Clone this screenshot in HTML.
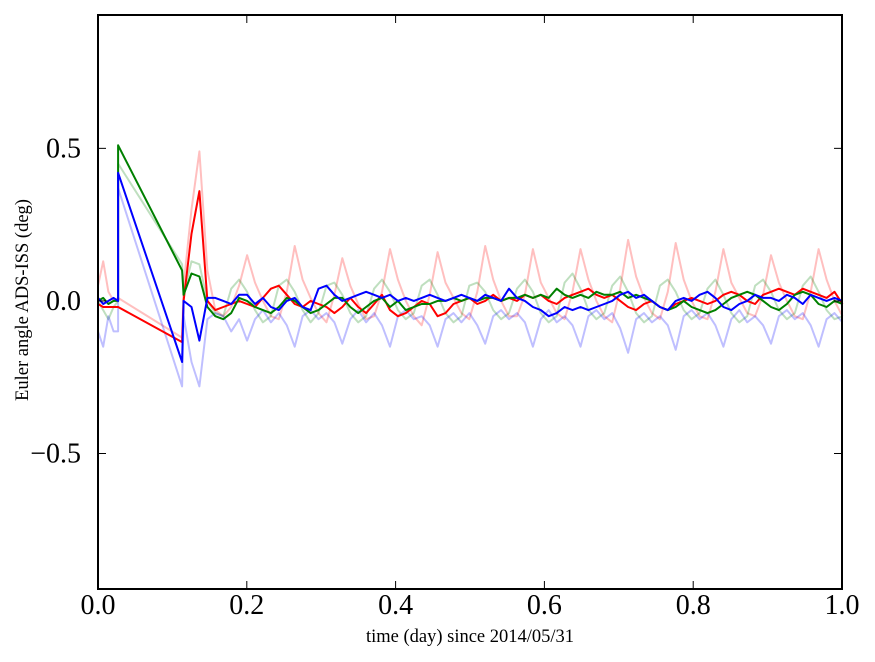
<!DOCTYPE html>
<html><head><meta charset="utf-8"><style>
html,body{margin:0;padding:0;background:#fff;}
svg{display:block;font-family:"Liberation Serif",serif;}
</style></head><body>
<svg id="chart" width="875" height="662" viewBox="0 0 875 662" xmlns="http://www.w3.org/2000/svg">
<rect x="0" y="0" width="875" height="662" fill="#fff"/>
<g id="series"></g>
<g id="axes"></g>
<text x="470" y="642" font-size="18.5" text-anchor="middle">time (day) since 2014/05/31</text>
<text transform="translate(28,300) rotate(-90)" font-size="18.5" text-anchor="middle">Euler angle ADS-ISS (deg)</text>
</svg>
<script>
const xTicks=[0,0.2,0.4,0.6,0.8,1.0];
const xTickLabels=["0.0","0.2","0.4","0.6","0.8","1.0"];
const yTicks=[0.5,0.0,-0.5];
const yTickLabels=["0.5","0.0","\u22120.5"];
const preTimes=[0,0.007,0.014,0.021,0.027,0.027,0.113];
const mainStart=0.115, mainStep=0.01067;
const preRedFaint=[0.05,0.13,0.03,0.0,0.01,0.01,-0.12];
const preGreenFaint=[0.0,-0.03,-0.06,-0.02,0.0,0.45,0.12];
const preBlueFaint=[-0.1,-0.15,-0.05,-0.1,-0.1,0.37,-0.28];
const preRed=[-0.01,-0.02,-0.02,-0.02,-0.02,-0.02,-0.135];
const preGreen=[0.0,0.01,-0.01,0.0,0.0,0.51,0.10];
const preBlue=[0.01,-0.01,0.0,0.01,0.0,0.42,-0.20];
const redFaint=[0.05,0.30,0.49,0.10,-0.03,-0.05,
-0.02,0.05,0.15,0.06,0.00,-0.05,
-0.06,0.03,0.18,0.07,0.01,-0.04,
-0.07,0.02,0.14,0.05,-0.01,-0.06,
-0.05,0.03,0.17,0.07,0.00,-0.05,
-0.08,0.02,0.16,0.06,0.01,-0.04,
-0.06,0.03,0.18,0.07,0.00,-0.05,
-0.05,0.02,0.17,0.06,0.01,-0.04,
-0.06,0.03,0.17,0.07,0.00,-0.05,
-0.07,0.04,0.20,0.08,0.01,-0.04,
-0.06,0.03,0.19,0.07,0.00,-0.05,
-0.06,0.03,0.17,0.06,0.01,-0.04,
-0.05,0.02,0.15,0.06,0.00,-0.05,
-0.06,0.03,0.17,0.07,0.00,-0.05];
const blueFaint=[-0.05,-0.20,-0.28,-0.06,-0.04,-0.05,
-0.10,-0.06,-0.13,-0.06,-0.03,-0.07,
-0.04,-0.08,-0.15,-0.05,-0.03,-0.06,
-0.04,-0.07,-0.14,-0.06,-0.03,-0.07,
-0.04,-0.08,-0.15,-0.05,-0.03,-0.06,
-0.05,-0.08,-0.15,-0.06,-0.04,-0.07,
-0.04,-0.08,-0.14,-0.05,-0.03,-0.06,
-0.04,-0.07,-0.15,-0.06,-0.03,-0.07,
-0.05,-0.08,-0.15,-0.05,-0.03,-0.06,
-0.04,-0.09,-0.17,-0.06,-0.04,-0.07,
-0.05,-0.08,-0.16,-0.05,-0.03,-0.06,
-0.04,-0.08,-0.15,-0.06,-0.03,-0.07,
-0.05,-0.08,-0.14,-0.05,-0.03,-0.06,
-0.04,-0.08,-0.15,-0.06,-0.04,-0.07];
const greenFaint=[0.02,0.13,0.12,0.00,-0.04,-0.05,
0.04,0.07,0.03,-0.03,-0.07,-0.05,
0.05,0.07,0.03,-0.03,-0.07,-0.04,
0.05,0.06,0.02,-0.04,-0.07,-0.05,
0.04,0.07,0.03,-0.03,-0.06,-0.04,
0.05,0.07,0.02,-0.04,-0.07,-0.05,
0.05,0.06,0.03,-0.03,-0.06,-0.04,
0.04,0.07,0.03,-0.04,-0.07,-0.05,
0.06,0.09,0.04,-0.03,-0.06,-0.04,
0.05,0.08,0.03,-0.04,-0.07,-0.05,
0.05,0.07,0.03,-0.03,-0.06,-0.04,
0.04,0.07,0.02,-0.04,-0.07,-0.05,
0.05,0.07,0.03,-0.03,-0.06,-0.04,
0.05,0.08,0.03,-0.03,-0.06,-0.05];
const redValues=[0.00,0.22,0.36,0.00,-0.03,-0.02,
-0.01,0.00,-0.01,-0.02,0.01,0.04,
0.05,0.02,-0.01,-0.02,0.00,-0.01,
-0.02,-0.04,-0.02,0.01,-0.02,-0.04,
-0.01,0.02,-0.03,-0.05,-0.04,-0.02,
0.00,-0.01,-0.05,-0.04,-0.01,0.00,
0.01,-0.01,0.00,0.02,0.00,0.01,
0.00,0.02,0.01,0.02,0.00,-0.01,
0.01,0.02,0.03,0.04,0.02,0.01,
0.02,0.00,-0.02,-0.03,-0.01,0.00,
-0.02,-0.03,-0.01,0.00,0.01,0.00,
-0.01,0.00,0.02,0.03,0.02,0.00,
-0.01,0.02,0.03,0.04,0.03,0.02,
0.04,0.03,0.02,0.01,0.03,-0.01];
const greenValues=[0.02,0.09,0.08,-0.02,-0.05,-0.06,
-0.04,0.01,0.00,-0.02,-0.03,-0.04,
-0.02,0.01,0.00,-0.02,-0.04,-0.03,
-0.01,0.01,0.01,-0.02,-0.04,-0.02,
0.00,0.01,-0.02,0.00,-0.03,-0.02,
-0.01,-0.01,0.00,0.00,0.01,0.00,
0.01,0.00,0.01,0.01,0.00,0.01,
0.01,0.02,0.01,0.02,0.01,0.04,
0.02,0.01,0.02,0.01,0.03,0.02,
0.02,0.03,0.01,0.02,0.01,0.00,
-0.02,-0.03,-0.02,0.00,-0.02,-0.03,
-0.04,-0.03,-0.01,0.01,0.02,0.03,
0.02,0.00,-0.02,-0.03,-0.01,0.02,
0.03,0.02,-0.01,-0.02,0.00,-0.01];
const blueValues=[0.00,-0.02,-0.13,0.01,0.01,0.00,
-0.01,0.02,0.02,-0.01,0.01,-0.02,
-0.03,0.00,0.01,-0.02,-0.03,0.04,
0.05,0.02,0.00,0.01,0.02,0.03,
0.02,0.01,0.02,0.00,0.01,0.00,
0.01,0.02,0.01,0.00,0.01,0.02,
0.01,0.00,0.02,0.01,0.00,0.04,
0.01,0.00,-0.02,-0.03,-0.05,-0.04,
-0.02,-0.03,-0.02,-0.03,-0.02,-0.01,
0.00,0.02,0.03,0.01,0.02,0.00,
-0.02,-0.03,0.00,0.01,0.00,0.02,
0.03,0.01,-0.02,-0.03,-0.01,0.00,
0.02,0.01,0.01,0.00,0.02,0.01,
-0.01,0.02,0.01,0.00,0.01,0.00];

const L=98,R=842,T=15,B=589;
const yMin=-0.944,yMax=0.937;
function xs(t){return L+(t-0)/(1-0)*(R-L);}
function ys(v){return T+(yMax-v)/(yMax-yMin)*(B-T);}
const NS="http://www.w3.org/2000/svg";
const sg=document.getElementById('series');
function drawSeries(pre,main,color,opacity,name){
  const pts=[];
  for(let i=0;i<preTimes.length;i++)pts.push([xs(preTimes[i]),ys(pre[i])]);
  for(let i=0;i<main.length;i++)pts.push([xs(mainStart+i*mainStep),ys(main[i])]);
  const p=document.createElementNS(NS,'polyline');
  p.setAttribute('points',pts.map(q=>q[0].toFixed(1)+','+q[1].toFixed(1)).join(' '));
  p.setAttribute('fill','none');p.setAttribute('stroke',color);
  p.setAttribute('stroke-width','2');p.setAttribute('stroke-opacity',opacity);
  p.setAttribute('stroke-linejoin','round');
  
  
  sg.appendChild(p);
}
drawSeries(preRedFaint,redFaint,'#ff0000',0.25,'red-faint-line');
drawSeries(preGreenFaint,greenFaint,'#008000',0.25,'green-faint-line');
drawSeries(preBlueFaint,blueFaint,'#0000ff',0.25,'blue-faint-line');
drawSeries(preRed,redValues,'#ff0000',1,'red-line');
drawSeries(preGreen,greenValues,'#008000',1,'green-line');
drawSeries(preBlue,blueValues,'#0000ff',1,'blue-line');

const ax=document.getElementById('axes');
const frame=document.createElementNS(NS,'rect');
frame.setAttribute('x',L);frame.setAttribute('y',T);frame.setAttribute('width',R-L);frame.setAttribute('height',B-T);
frame.setAttribute('fill','none');frame.setAttribute('stroke','#000');frame.setAttribute('stroke-width','2');


ax.appendChild(frame);
function line(x1,y1,x2,y2,name){
  const l=document.createElementNS(NS,'line');
  l.setAttribute('x1',x1);l.setAttribute('y1',y1);l.setAttribute('x2',x2);l.setAttribute('y2',y2);
  l.setAttribute('stroke','#000');l.setAttribute('stroke-width','1');
  
  
  ax.appendChild(l);
}
function text(x,y,s,anchor,name){
  const t=document.createElementNS(NS,'text');
  t.setAttribute('x',x);t.setAttribute('y',y);t.setAttribute('font-size','28');t.setAttribute('text-anchor',anchor);
  t.textContent=s;
  
  
  ax.appendChild(t);
}
xTicks.forEach((v,i)=>{
  const x=xs(v);
  line(x,B,x,B-8,'x-tick');line(x,T,x,T+8,'x-tick-top');
  text(x,614,xTickLabels[i],'middle','x-tick-label');
});
yTicks.forEach((v,i)=>{
  const y=ys(v);
  line(L,y,L+8,y,'y-tick');line(R,y,R-8,y,'y-tick-right');
  text(L-17,y+9,yTickLabels[i],'end','y-tick-label');
});
</script>
</body></html>
